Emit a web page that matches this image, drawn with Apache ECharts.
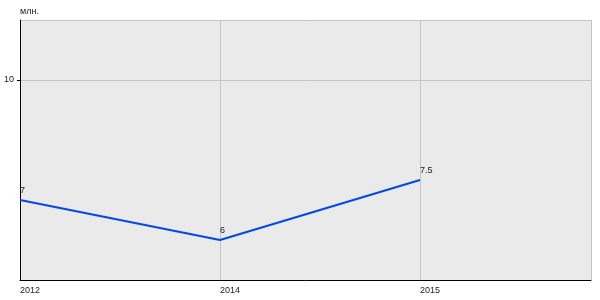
<!DOCTYPE html>
<html><head><meta charset="utf-8">
<script src="https://cdn.jsdelivr.net/npm/echarts@6/dist/echarts.min.js"></script>
<style>html,body{margin:0;padding:0;background:#fff}#c{width:600px;height:300px}</style>
</head><body><div id="c"></div>
<script>
var categories = ['2012', '2014', '2015'];
var values = [7, 6, 7.5];
var yUnit = 'млн.';

var chart = echarts.init(document.getElementById('c'), null, {renderer: 'canvas'});
var font = 'Liberation Sans, Arial, sans-serif';
chart.setOption({
  animation: false,
  grid: {left: 20, right: 9, top: 20, bottom: 20, show: true, backgroundColor: '#eaeaea', borderWidth: 0},
  xAxis: {
    type: 'value', min: 0, max: 2.855, interval: 1,
    axisLine: {show: true, lineStyle: {color: '#000', width: 1}},
    axisTick: {show: false},
    splitLine: {show: true, lineStyle: {color: '#c4c4c4', width: 1}},
    axisLabel: {
      color: '#222', fontSize: 9, fontFamily: font, align: 'left', margin: 6,
      formatter: function (v) { return categories[v] !== undefined ? categories[v] : ''; }
    }
  },
  yAxis: {
    type: 'value', min: 5, max: 11.5, interval: 5,
    name: yUnit, nameLocation: 'end', nameGap: 4,
    nameTextStyle: {color: '#222', fontSize: 9, fontFamily: font, align: 'left', padding: [0,0,0,0]},
    axisLine: {show: true, lineStyle: {color: '#000', width: 1}},
    axisTick: {show: true, length: 3, lineStyle: {color: '#000'}},
    splitLine: {show: true, lineStyle: {color: '#c4c4c4', width: 1}},
    axisLabel: {color: '#222', fontSize: 9, fontFamily: font, margin: 6, showMinLabel: false, showMaxLabel: false}
  },
  series: [{
    type: 'line',
    data: values.map(function (v, i) { return [i, v]; }),
    symbol: 'circle', symbolSize: 0, showSymbol: true,
    lineStyle: {color: '#0047e6', width: 2},
    itemStyle: {color: '#0047e6'},
    label: {show: true, position: [0, -14], align: 'left', verticalAlign: 'top', color: '#222', fontSize: 9, fontFamily: font}
  }]
});
</script></body></html>
